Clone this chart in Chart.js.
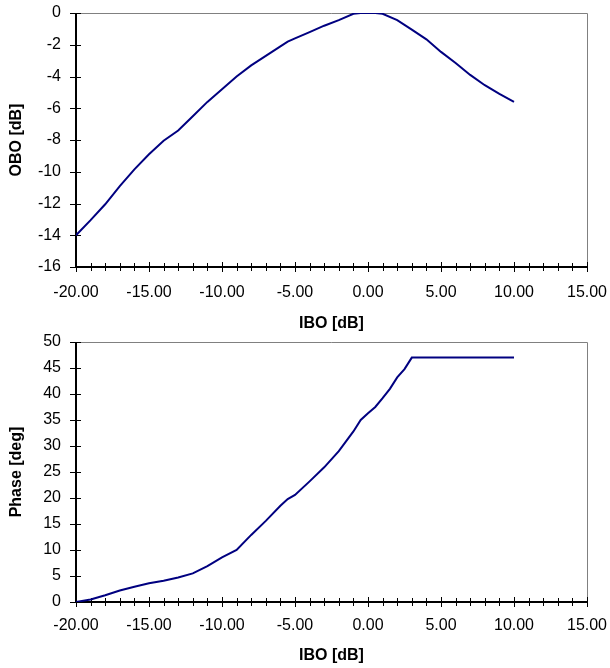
<!DOCTYPE html>
<html>
<head>
<meta charset="utf-8">
<script src="https://cdn.jsdelivr.net/npm/chart.js@4/dist/chart.umd.min.js"></script>
<style>
  body { margin: 0; background: #fff; }
  canvas { position: absolute; left: 0; }
  #amChart { top: 0; }
  #pmChart { top: 334px; }
</style>
</head>
<body>
<canvas id="amChart" width="610" height="334"></canvas>
<canvas id="pmChart" width="610" height="334"></canvas>
<script>
// AM/AM curve
const iboAm = [-20, -19, -18, -17, -16, -15, -14, -13, -12, -11, -10, -9, -8, -7, -6, -5.5, -5, -4, -3, -2, -1, -0.5, 0, 0.5, 1, 2, 3, 4, 5, 6, 7, 8, 9, 10];
const obo = [-14.0, -13.05, -12.05, -10.9, -9.85, -8.9, -8.05, -7.4, -6.5, -5.6, -4.8, -4.0, -3.3, -2.7, -2.1, -1.8, -1.6, -1.2, -0.8, -0.45, -0.05, 0, 0, 0, -0.05, -0.45, -1.05, -1.66, -2.45, -3.15, -3.9, -4.55, -5.1, -5.6];

// AM/PM curve
const iboPm = [-20, -19, -18, -17, -16, -15, -14, -13, -12, -11, -10, -9, -8, -7, -6, -5.5, -5, -4, -3, -2, -1, -0.5, 0, 0.5, 1, 1.5, 2, 2.5, 3, 10];
const phase = [0, 0.5, 1.3, 2.2, 2.95, 3.6, 4.1, 4.7, 5.5, 6.9, 8.6, 10.0, 12.9, 15.6, 18.5, 19.8, 20.6, 23.2, 25.9, 29.0, 32.8, 35.0, 36.3, 37.5, 39.2, 41.0, 43.2, 44.8, 47, 47];

const xMin = -20, xMax = 15;
const FONT = "'Liberation Sans', Arial, sans-serif";

// excel-ish frame + crossing tick marks
const framePlugin = {
  id: "frame",
  beforeDatasetsDraw(chart) {
    const { ctx, chartArea: a, scales } = chart;
    ctx.save();
    ctx.strokeStyle = "#808080";
    ctx.lineWidth = 1;
    ctx.beginPath();
    ctx.moveTo(a.left, a.top + 0.5);
    ctx.lineTo(a.right + 0.5, a.top + 0.5);
    ctx.lineTo(a.right + 0.5, a.bottom);
    ctx.stroke();

    ctx.strokeStyle = "#000";
    ctx.lineWidth = 1;
    ctx.beginPath();
    for (let v = xMin; v <= xMax; v++) {
      const px = Math.round(scales.x.getPixelForValue(v)) + 0.5;
      const len = v % 5 === 0 ? 5 : 4;
      ctx.moveTo(px, a.bottom - len);
      ctx.lineTo(px, a.bottom + len);
    }
    scales.y.ticks.forEach(t => {
      const py = Math.round(scales.y.getPixelForValue(t.value)) + 0.5;
      ctx.moveTo(a.left - 6, py);
      ctx.lineTo(a.left + 5, py);
    });
    ctx.stroke();

    ctx.lineWidth = 2;
    ctx.beginPath();
    ctx.moveTo(a.left, a.top);
    ctx.lineTo(a.left, a.bottom);
    ctx.lineTo(a.right + 1, a.bottom);
    ctx.stroke();
    ctx.restore();
  }
};

function makeChart(id, xs, ys, yOpts, xLabelPad, xAxisHeight, pad) {
  return new Chart(document.getElementById(id), {
    type: "line",
    data: {
      datasets: [{
        data: xs.map((x, i) => ({ x: x, y: ys[i] })),
        borderColor: "#000080",
        borderWidth: 2,
        pointRadius: 0,
        tension: 0,
        fill: false
      }]
    },
    options: {
      responsive: false,
      animation: false,
      layout: { padding: pad },
      plugins: { legend: { display: false }, tooltip: { enabled: false } },
      scales: {
        x: {
          type: "linear",
          min: xMin,
          max: xMax,
          grid: { display: false, drawTicks: false },
          border: { display: false },
          ticks: {
            stepSize: 1,
            autoSkip: false,
            maxRotation: 0,
            padding: xLabelPad,
            color: "#000",
            font: { family: FONT, size: 16 },
            callback: v => (v % 5 === 0 ? Number(v).toFixed(2) : "")
          },
          title: {
            display: true,
            text: "IBO [dB]",
            color: "#000",
            padding: { top: 0, bottom: 0 },
            font: { family: FONT, size: 16, weight: "bold" }
          },
          afterFit: s => {
            s.height = xAxisHeight;
            s.paddingLeft = 0;
            s.paddingRight = 0;
          }
        },
        y: {
          min: yOpts.min,
          max: yOpts.max,
          grid: { display: false, drawTicks: false },
          border: { display: false },
          ticks: {
            stepSize: yOpts.step,
            padding: 15,
            color: "#000",
            font: { family: FONT, size: 16 }
          },
          title: {
            display: true,
            text: yOpts.title,
            color: "#000",
            padding: { top: 7, bottom: 0 },
            font: { family: FONT, size: 16, weight: "bold" }
          },
          afterFit: s => {
            s.width = 76;
            s.paddingTop = 0;
            s.paddingBottom = 0;
          }
        }
      }
    },
    plugins: [framePlugin]
  });
}

makeChart("amChart", iboAm, obo, { min: -16, max: 0, step: 2, title: "OBO [dB]" }, 16, 66,
  { top: 13, right: 23, bottom: 1, left: 0 });
makeChart("pmChart", iboPm, phase, { min: 0, max: 50, step: 5, title: "Phase [deg]" }, 14, 63,
  { top: 8, right: 23, bottom: 3, left: 0 });
</script>
</body>
</html>
